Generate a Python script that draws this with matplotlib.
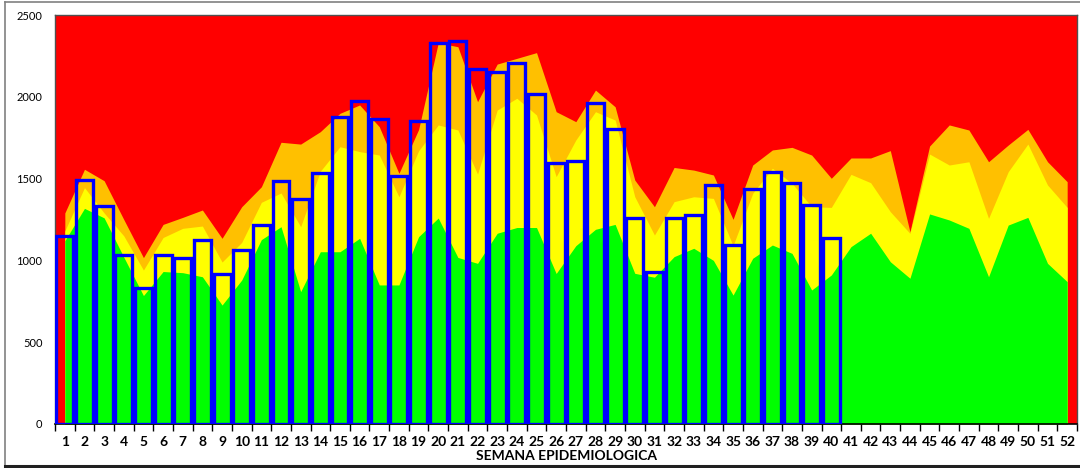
import matplotlib
matplotlib.use("Agg")
import matplotlib.pyplot as plt
import numpy as np
from matplotlib.lines import Line2D

plt.rcParams['font.family'] = ['Lato', 'DejaVu Sans']

semanas = list(range(1, 53))

# canal endemico: limites superiores de cada zona
zona_alerta = [1290, 1557, 1487, 1250, 1017, 1220, 1263, 1308, 1135, 1328,
               1450, 1722, 1711, 1787, 1899, 1950, 1817, 1532, 1800, 2330,
               2306, 1970, 2200, 2235, 2270, 1909, 1848, 2041, 1939, 1491,
               1328, 1568, 1552, 1522, 1251, 1583, 1675, 1691, 1644, 1502,
               1626, 1626, 1671, 1175, 1699, 1828, 1797, 1603, 1705, 1801,
               1603, 1481]
zona_seguridad = [1180, 1445, 1290, 1150, 941, 1140, 1196, 1210, 990, 1110,
                  1355, 1412, 1206, 1545, 1695, 1665, 1644, 1389, 1670, 1828,
                  1797, 1528, 1919, 1991, 1889, 1512, 1736, 1909, 1858, 1389,
                  1155, 1359, 1389, 1379, 1090, 1410, 1563, 1471, 1328, 1324,
                  1526, 1475, 1298, 1165, 1650, 1583, 1603, 1257, 1542, 1711,
                  1461, 1324]
zona_exito = [1120, 1318, 1260, 1020, 785, 932, 925, 900, 727, 880,
              1127, 1206, 809, 1053, 1053, 1135, 850, 850, 1145, 1259,
              1018, 982, 1166, 1201, 1201, 920, 1090, 1190, 1220, 921,
              897, 1023, 1074, 1000, 788, 1013, 1094, 1043, 819, 911,
              1084, 1166, 992, 891, 1284, 1247, 1196, 900, 1216, 1263,
              982, 870]

# casos notificados (semanas 1-40)
casos = [1151, 1494, 1333, 1036, 833, 1030, 1012, 1127, 919, 1063,
         1218, 1488, 1377, 1535, 1874, 1974, 1864, 1517, 1855, 2330,
         2339, 2170, 2150, 2208, 2015, 1593, 1607, 1960, 1803, 1261,
         927, 1257, 1279, 1461, 1092, 1434, 1542, 1471, 1339, 1135]

fig = plt.figure(figsize=(10.8, 4.68), dpi=100)
# marco del grafico
fig.lines.append(Line2D([5 / 1080, 5 / 1080], [3 / 468, 466 / 468],
                        transform=fig.transFigure, color='#808080', lw=1.2))
fig.lines.append(Line2D([5 / 1080, 1080 / 1080], [466 / 468, 466 / 468],
                        transform=fig.transFigure, color='#808080', lw=1.2))
fig.lines.append(Line2D([5 / 1080, 1080 / 1080], [2.5 / 468, 2.5 / 468],
                        transform=fig.transFigure, color='#202020', lw=2.2))

ax = fig.add_axes([55 / 1080, 44 / 468, 1022 / 1080, 409 / 468])
ax.set_facecolor('#FF0000')

x = np.array(semanas)
ax.fill_between(x, 0, zona_alerta, color='#FFC000', linewidth=0)
ax.fill_between(x, 0, zona_seguridad, color='#FFFF00', linewidth=0)
ax.fill_between(x, 0, zona_exito, color='#00FF00', linewidth=0)

ax.bar(x[:len(casos)], casos, width=0.86, facecolor='none',
       edgecolor='#0000FF', linewidth=2.4, zorder=3)

ax.set_xlim(0.5, 52.5)
ax.set_ylim(0, 2500)
ax.set_yticks([0, 500, 1000, 1500, 2000, 2500])
ax.tick_params(axis='y', length=0, pad=9, labelsize=8)
ax.set_xticks(x)
ax.set_xticklabels([str(s) for s in semanas], fontweight='bold', fontsize=10)
ax.set_xticks(np.arange(0.5, 53, 1), minor=True)
ax.tick_params(axis='x', which='major', length=0, pad=9)
ax.tick_params(axis='x', which='minor', length=5, width=1, direction='out')
ax.set_xlabel('SEMANA EPIDEMIOLOGICA', fontweight='bold', fontsize=10,
              labelpad=1)

for s in ['top', 'right', 'left']:
    ax.spines[s].set_color('#505050')
    ax.spines[s].set_linewidth(1)
ax.spines['bottom'].set_color('black')
ax.spines['bottom'].set_linewidth(1.2)

fig.savefig('out.png', dpi=100)
